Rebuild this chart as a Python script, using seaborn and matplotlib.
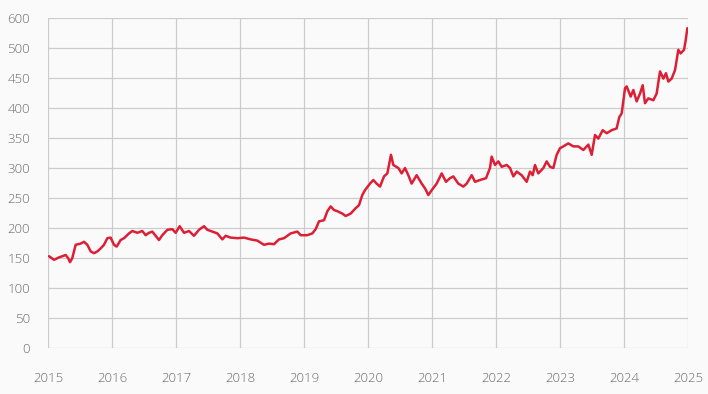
import pandas as pd
import matplotlib
matplotlib.use("Agg")
import matplotlib.pyplot as plt
import seaborn as sns

# values (decimal year, price)
years = [
    2015.016, 2015.094, 2015.172, 2015.276, 2015.313, 2015.344, 2015.380, 2015.432,
    2015.510, 2015.563, 2015.615, 2015.667, 2015.719, 2015.771, 2015.823, 2015.875,
    2015.927, 2015.979, 2016.031, 2016.073, 2016.135, 2016.188, 2016.266, 2016.318,
    2016.396, 2016.474, 2016.526, 2016.578, 2016.630, 2016.682, 2016.734, 2016.786,
    2016.865, 2016.943, 2016.995, 2017.057, 2017.125, 2017.203, 2017.281, 2017.359,
    2017.438, 2017.490, 2017.568, 2017.646, 2017.724, 2017.776, 2017.854, 2017.958,
    2018.063, 2018.167, 2018.271, 2018.375, 2018.453, 2018.531, 2018.609, 2018.688,
    2018.792, 2018.896, 2018.948, 2019.052, 2019.130, 2019.182, 2019.234, 2019.313,
    2019.365, 2019.417, 2019.469, 2019.521, 2019.599, 2019.651, 2019.729, 2019.807,
    2019.859, 2019.911, 2019.953, 2020.031, 2020.083, 2020.135, 2020.188, 2020.250,
    2020.302, 2020.333, 2020.359, 2020.396, 2020.474, 2020.526, 2020.578, 2020.630,
    2020.682, 2020.760, 2020.839, 2020.891, 2020.943, 2020.995, 2021.073, 2021.151,
    2021.219, 2021.281, 2021.333, 2021.411, 2021.490, 2021.542, 2021.620, 2021.672,
    2021.750, 2021.844, 2021.906, 2021.932, 2021.984, 2022.036, 2022.089, 2022.167,
    2022.219, 2022.271, 2022.323, 2022.401, 2022.479, 2022.531, 2022.573, 2022.609,
    2022.661, 2022.740, 2022.792, 2022.844, 2022.896, 2022.948, 2023.000, 2023.052,
    2023.130, 2023.208, 2023.286, 2023.365, 2023.443, 2023.495, 2023.547, 2023.599,
    2023.667, 2023.729, 2023.807, 2023.885, 2023.927, 2023.964, 2024.016, 2024.042,
    2024.104, 2024.146, 2024.198, 2024.250, 2024.292, 2024.328, 2024.380, 2024.458,
    2024.510, 2024.563, 2024.615, 2024.656, 2024.693, 2024.745, 2024.797, 2024.849,
    2024.885, 2024.938, 2024.964, 2024.990,
]
prices = [
    153, 147, 151, 155, 150, 143, 150, 172,
    174, 177, 172, 161, 158, 161, 166, 172,
    183, 184, 172, 169, 180, 183, 191, 195,
    192, 195, 188, 192, 194, 187, 180, 188,
    197, 198, 192, 203, 192, 195, 187, 197,
    203, 197, 194, 191, 181, 187, 184, 183,
    184, 181, 179, 172, 174, 173, 181, 183,
    191, 194, 188, 188, 191, 198, 211, 213,
    228, 236, 230, 228, 224, 220, 224, 233,
    238, 255, 263, 274, 280, 274, 269, 286,
    291, 308, 322, 305, 300, 291, 300, 288,
    274, 288, 274, 266, 255, 263, 274, 291,
    277, 283, 286, 274, 269, 274, 288, 277,
    280, 283, 300, 319, 305, 311, 302, 305,
    300, 286, 294, 288, 277, 294, 288, 305,
    291, 300, 311, 302, 300, 322, 333, 336,
    341, 336, 336, 330, 339, 322, 355, 349,
    363, 358, 363, 366, 385, 391, 433, 436,
    419, 430, 411, 424, 438, 408, 416, 413,
    424, 461, 449, 458, 444, 449, 463, 497,
    491, 497, 513, 533,
]
xtick_values = [2015, 2016, 2017, 2018, 2019, 2020, 2021, 2022, 2023, 2024, 2025]
xtick_labels = [str(y) for y in xtick_values]
ytick_values = [0, 50, 100, 150, 200, 250, 300, 350, 400, 450, 500, 550]
ytick_labels = ["0", "50", "100", "150", "200", "250", "300", "350", "400", "450", "500", "600"]

bg = "#fafafa"
grid_color = "#cccccc"
text_color = "#6c6c6c"

sns.set_theme(style="whitegrid")
plt.rcParams["font.family"] = ["Open Sans", "DejaVu Sans"]

df = pd.DataFrame({"year": years, "price": prices})

fig = plt.figure(figsize=(7.08, 3.94), dpi=100, facecolor=bg)
ax = fig.add_axes([48 / 708, 1 - 348 / 394, 640 / 708, 330 / 394])
ax.set_facecolor(bg)

sns.lineplot(data=df, x="year", y="price", color="#dd1f36", linewidth=1.8, ax=ax)

ax.set_xlim(2015, 2025)
ax.set_ylim(0, 550)
ax.set_xticks(xtick_values)
ax.set_xticklabels(xtick_labels)
ax.set_yticks(ytick_values)
ax.set_yticklabels(ytick_labels)
ax.set_xlabel("")
ax.set_ylabel("")

ax.grid(True, color=grid_color, linewidth=0.9)
ax.set_axisbelow(True)
for spine in ax.spines.values():
    spine.set_visible(False)

ax.tick_params(axis="x", length=11.5, width=0.9, color=grid_color, pad=5.5,
               labelsize=9.5, labelcolor=text_color)
ax.tick_params(axis="y", length=9.4, width=0.9, color=grid_color, pad=3.5,
               labelsize=9.5, labelcolor=text_color)
for lbl in ax.get_xticklabels() + ax.get_yticklabels():
    lbl.set_fontweight("light")

fig.savefig("out.png", dpi=100, facecolor=bg)
